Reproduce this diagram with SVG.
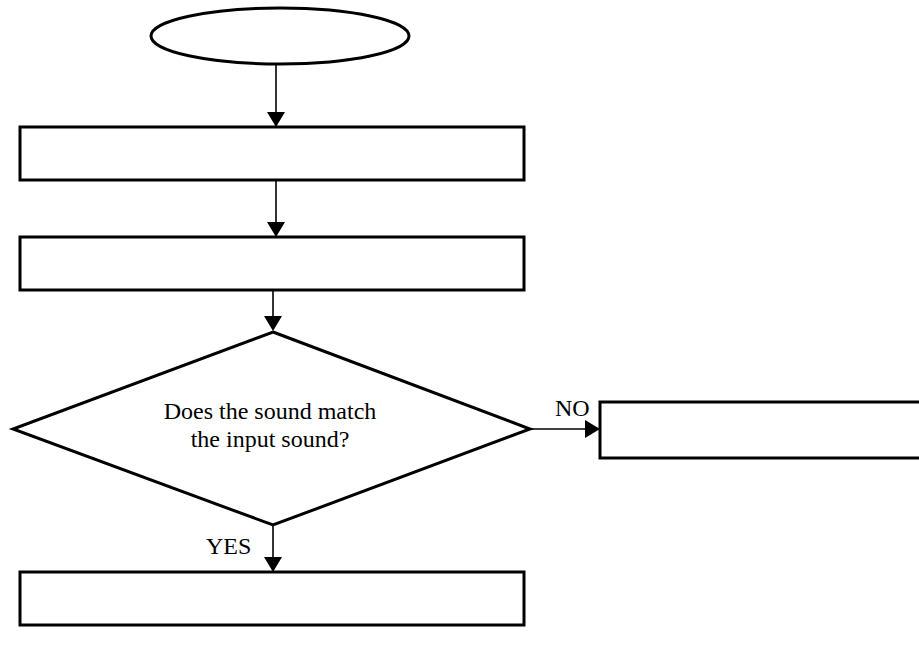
<svg xmlns="http://www.w3.org/2000/svg" width="919" height="650" viewBox="0 0 919 650">
<style>
.shape{fill:#fff;stroke:#000;stroke-width:3}
.conn{stroke:#000;stroke-width:1.6;fill:none}
.head{fill:#000}
.lbl{font-family:"Liberation Serif","Times New Roman",serif;font-size:24px;fill:#000}
</style>
<rect width="919" height="650" fill="#fff"/>
<g id="connectors">
<line class="conn" x1="276" y1="65" x2="276" y2="113"/>
<line class="conn" x1="276" y1="180" x2="276" y2="223"/>
<line class="conn" x1="273" y1="290" x2="273" y2="317"/>
<line class="conn" x1="530" y1="429" x2="586" y2="429"/>
<line class="conn" x1="273" y1="525" x2="273" y2="558"/>
<path class="head" d="M267,112 L285,112 L276,127 z"/>
<path class="head" d="M267,222 L285,222 L276,237 z"/>
<path class="head" d="M264,316 L282,316 L273,331 z"/>
<path class="head" d="M585,420 L585,438 L600,429 z"/>
<path class="head" d="M264,557 L282,557 L273,572 z"/>
<text class="lbl" x="555" y="416">NO</text>
<text class="lbl" x="206" y="554">YES</text>
</g>
<g id="start"><ellipse class="shape" cx="280" cy="36" rx="129" ry="28"/></g>
<g id="box1"><rect class="shape" x="20" y="127" width="504" height="53"/></g>
<g id="box2"><rect class="shape" x="20" y="237" width="504" height="53"/></g>
<g id="decision">
<polygon class="shape" points="273,332 530,429 273,525 13,429"/>
<text class="lbl" x="270" y="419" text-anchor="middle">Does the sound match</text>
<text class="lbl" x="270" y="447" text-anchor="middle">the input sound?</text>
</g>
<g id="noBox"><rect class="shape" x="600" y="402" width="322" height="56"/></g>
<g id="yesBox"><rect class="shape" x="20" y="572" width="504" height="53"/></g>
</svg>
